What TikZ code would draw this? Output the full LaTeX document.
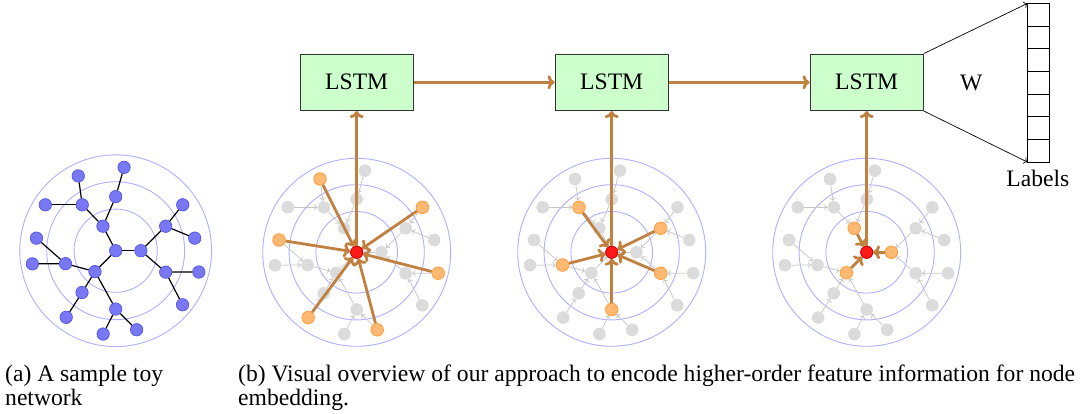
\documentclass[tikz,border=0pt]{standalone}
\usepackage{fontspec}
\setmainfont{Liberation Serif}
\usetikzlibrary{arrows.meta}
\def\treepts{a1/24.7/0, a2/-12.5/-24, a3/-20.3/20.5, b1/-32.8/-45, g/0/-53, b2/49/-24, b4/49/21, b3/-49.2/12.7, gp/-33/41, b5/0/57.2, h1/-36.7/-73.3, h2/-69/-45, h3/8.2/-81.7, h4/65.7/-45, h5/77.5/-12.3, h6/81.5/20.9, h7/65.5/53, h8/-77.7/-12.3, h9/-81.7/12.9, h10/-48.5/65.3, h11/-12.3/81.7, h12/20.5/77.5}
\def\treeedges{a1/c, a2/c, a3/c, b2/a1, b4/a1, b1/a2, g/a2, b3/a3, gp/a3, b5/a3, h4/b2, h5/b2, h6/b4, h7/b4, h1/b1, h2/b1, h3/g, h8/b3, h9/b3, h10/gp, h11/b5, h12/b5}
\newcommand{\hopview}[4]{%
  \begin{scope}[shift={(#2,#3)}]
    \draw[ring] (0,0) circle[radius=40.8] (0,0) circle[radius=67.6] (0,0) circle[radius=94];
    \coordinate (#1-c) at (0,0);
    \foreach \n/\px/\py in \treepts {\coordinate (#1-\n) at (\px,\py);}
  \end{scope}
  \foreach \o in {#4} {\expandafter\gdef\csname hl#1\o\endcsname{}}
  \foreach \n/\px/\py in \treepts {%
    \ifcsname hl#1\n\endcsname
      \node[onode] (n#1-\n) at (#1-\n) {};
    \else
      \node[gnode] (n#1-\n) at (#1-\n) {};
    \fi
  }
  \node[rnode] (n#1-c) at (#1-c) {};
  \foreach \ch/\pa in \treeedges {\draw[garrow] (n#1-\ch) -- (n#1-\pa);}
  \foreach \o in {#4} {\draw[barrow] (n#1-\o) -- (n#1-c);}
  \node[rnode] (n#1-ctop) at (#1-c) {};
}
\begin{document}
\begin{tikzpicture}[x=1pt,y=-1pt,
  ring/.style={draw={rgb,255:red,175;green,175;blue,255}, line width=0.9pt},
  bnode/.style={circle, fill={rgb,255:red,120;green,120;blue,245}, draw={rgb,255:red,85;green,85;blue,225}, line width=0.7pt, minimum size=12.4pt, inner sep=0pt},
  gnode/.style={circle, fill=gray!28, minimum size=12.6pt, inner sep=0pt},
  onode/.style={circle, fill=orange!55, draw=orange!75, line width=0.8pt, minimum size=12.6pt, inner sep=0pt},
  rnode/.style={circle, fill=red!90, draw=red!80!black, line width=0.6pt, minimum size=12pt, inner sep=0pt},
  tedge/.style={draw=black, line width=1.2pt},
  garrow/.style={draw=gray!45, line width=0.75pt, -{To[length=3.2pt,width=6pt]}},
  barrow/.style={draw=brown, line width=2.8pt, -{To[length=7pt,width=14pt]}},
  lstm/.style={draw=black!80, fill=green!20, line width=0.8pt, minimum width=113.4pt, minimum height=56.7pt, inner sep=0pt, font=\fontsize{23.6}{26}\selectfont},
  cell/.style={draw=black, line width=0.8pt, minimum width=21.3pt, minimum height=22.7pt, inner sep=0pt, outer sep=0pt},
  warrow/.style={draw=black, line width=0.7pt, -{To[length=4pt,width=7pt]}},
  captext/.style={anchor=base west, inner sep=0pt, font=\fontsize{23.6}{23.3}\selectfont},
  lbl/.style={anchor=base, inner sep=0pt, font=\fontsize{23.6}{26}\selectfont},
]
\path[use as bounding box] (0,0) rectangle (1084,414);

% (a) toy network
\begin{scope}[shift={(115.7,250.7)}, scale=1.02]
  \draw[ring] (0,0) circle[radius=40.8] (0,0) circle[radius=67.6] (0,0) circle[radius=94];
  \coordinate (A-c) at (0,0);
  \foreach \n/\px/\py in \treepts {\coordinate (A-\n) at (\px,\py);}
\end{scope}
\node[bnode] (nA-c) at (A-c) {};
\foreach \n/\px/\py in \treepts {\node[bnode] (nA-\n) at (A-\n) {};}
\foreach \ch/\pa in \treeedges {\draw[tedge] (nA-\ch) -- (nA-\pa);}

% (b) hop views
\hopview{P}{356.7}{252.3}{h1,h4,h8,h6,h10,h12}
\hopview{Q}{611.7}{252.3}{b1,b2,b3,b4,b5}
\hopview{R}{866.7}{252.3}{a1,a2,a3}

% LSTM chain
\node[lstm] (L1) at (356.7,82.3) {LSTM};
\node[lstm] (L2) at (611.7,82.3) {LSTM};
\node[lstm] (L3) at (866.7,82.3) {LSTM};
\draw[barrow] (L1) -- (L2);
\draw[barrow] (L2) -- (L3);
\draw[barrow] (nP-ctop) -- (nP-ctop |- L1.south);
\draw[barrow] (nQ-ctop) -- (nQ-ctop |- L2.south);
\draw[barrow] (nR-ctop) -- (nR-ctop |- L3.south);
\node[rnode] (nP-cc) at (P-c) {};
\node[rnode] (nQ-cc) at (Q-c) {};
\node[rnode] (nR-cc) at (R-c) {};

% output layer
\foreach \k in {1,...,7} {\node[cell] (cell\k) at (1038.35, {3.3+22.7*(\k-0.5)}) {};}
\draw[warrow] (L3.north east) -- (cell1.north west);
\draw[warrow] (L3.south east) -- (cell7.south west);
\node[lbl] (W) at (971.2,90.7) {W};
\node[lbl] (labels) at (1037.8,186.7) {Labels};

% captions
\node[captext] (capa1) at (5,381.7) {(a) A sample toy};
\node[captext] (capa2) at (5,405) {network};
\node[captext] (capb1) at (238,381.7) {(b) Visual overview of our approach to encode higher-order feature information for node};
\node[captext] (capb2) at (238,405) {embedding.};
\end{tikzpicture}
\end{document}
